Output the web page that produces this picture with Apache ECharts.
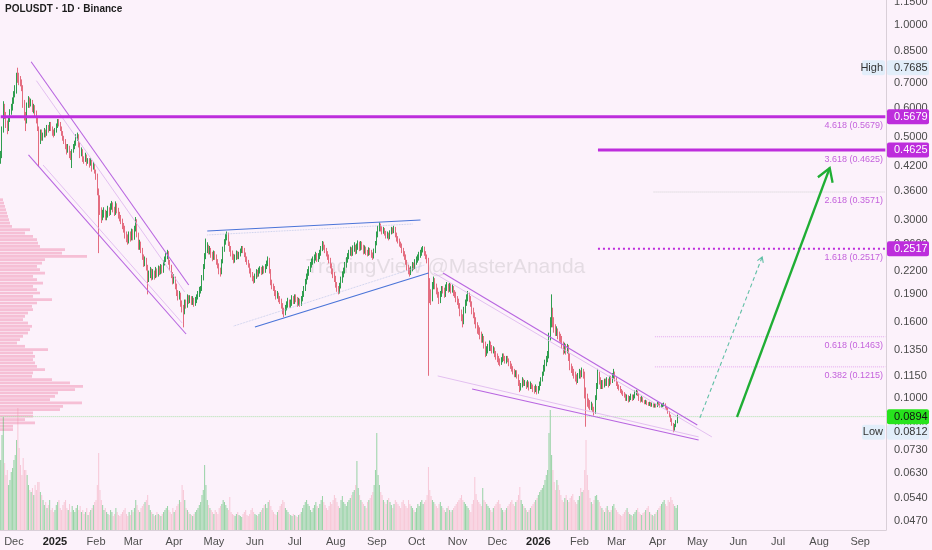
<!DOCTYPE html>
<html><head><meta charset="utf-8">
<script src="https://cdn.jsdelivr.net/npm/echarts@6/dist/echarts.min.js"></script>
<style>html,body{margin:0;padding:0;background:#fcf2fb}#c{width:932px;height:550px}</style>
</head><body><div id="c"></div><script>
const startDate = '2024-11-21';
const dayCount = 669;
const firstOpen = 0.43;
const closes = [
0.445,0.52,0.60,0.575,0.545,0.525,0.56,0.585,0.60,0.625,
0.65,0.665,0.73,0.725,0.715,0.70,0.68,0.62,0.57,0.55,
0.61,0.63,0.615,0.625,0.595,0.605,0.58,0.555,0.53,0.49,
0.515,0.50,0.505,0.52,0.51,0.53,0.525,0.54,0.53,0.515,
0.51,0.52,0.535,0.55,0.545,0.53,0.515,0.50,0.49,0.475,
0.46,0.47,0.455,0.45,0.46,0.47,0.48,0.50,0.505,0.48,
0.45,0.46,0.44,0.435,0.445,0.43,0.435,0.425,0.43,0.415,
0.42,0.405,0.395,0.36,0.34,0.32,0.305,0.31,0.315,0.305,
0.31,0.32,0.315,0.325,0.33,0.322,0.315,0.33,0.32,0.31,
0.305,0.30,0.29,0.285,0.275,0.27,0.265,0.275,0.27,0.28,
0.27,0.285,0.30,0.275,0.255,0.26,0.25,0.24,0.23,0.235,
0.225,0.21,0.215,0.22,0.212,0.217,0.213,0.22,0.215,0.222,
0.218,0.225,0.22,0.23,0.235,0.24,0.245,0.232,0.225,0.215,
0.207,0.21,0.20,0.192,0.187,0.19,0.18,0.175,0.172,0.18,
0.178,0.186,0.183,0.185,0.181,0.184,0.18,0.183,0.187,0.19,
0.195,0.196,0.21,0.225,0.24,0.25,0.255,0.248,0.25,0.243,
0.238,0.245,0.24,0.232,0.228,0.22,0.217,0.232,0.25,0.262,
0.27,0.275,0.26,0.252,0.245,0.24,0.235,0.238,0.245,0.24,
0.243,0.248,0.252,0.25,0.243,0.236,0.232,0.228,0.22,0.215,
0.21,0.207,0.212,0.218,0.215,0.22,0.222,0.218,0.223,0.22,
0.225,0.23,0.235,0.22,0.205,0.20,0.198,0.192,0.188,0.19,
0.185,0.183,0.178,0.172,0.17,0.175,0.178,0.182,0.178,0.18,
0.185,0.182,0.186,0.185,0.18,0.182,0.18,0.185,0.19,0.197,
0.205,0.212,0.217,0.222,0.228,0.232,0.235,0.238,0.242,0.236,
0.24,0.245,0.252,0.26,0.255,0.25,0.245,0.24,0.235,0.228,
0.22,0.215,0.21,0.202,0.197,0.193,0.20,0.208,0.215,0.22,
0.228,0.235,0.24,0.245,0.25,0.245,0.252,0.255,0.248,0.255,
0.26,0.253,0.26,0.255,0.248,0.252,0.247,0.245,0.25,0.246,
0.242,0.24,0.248,0.26,0.275,0.285,0.29,0.285,0.28,0.283,
0.278,0.272,0.275,0.27,0.278,0.283,0.28,0.285,0.275,0.268,
0.265,0.26,0.258,0.25,0.245,0.24,0.232,0.225,0.22,0.217,
0.222,0.228,0.225,0.232,0.235,0.238,0.242,0.245,0.25,0.252,
0.245,0.24,0.235,0.20,0.19,0.185,0.20,0.207,0.20,0.195,
0.19,0.183,0.19,0.196,0.195,0.19,0.198,0.20,0.196,0.20,
0.195,0.198,0.192,0.19,0.185,0.182,0.178,0.17,0.165,0.16,
0.172,0.18,0.185,0.19,0.185,0.18,0.172,0.168,0.162,0.158,
0.153,0.152,0.148,0.145,0.145,0.14,0.132,0.135,0.137,0.14,
0.137,0.135,0.135,0.132,0.13,0.128,0.126,0.125,0.127,0.13,
0.128,0.126,0.128,0.127,0.124,0.122,0.12,0.118,0.116,0.117,
0.115,0.11,0.106,0.108,0.112,0.11,0.11,0.108,0.11,0.107,
0.109,0.108,0.106,0.105,0.107,0.104,0.106,0.109,0.112,0.116,
0.12,0.124,0.127,0.13,0.145,0.158,0.168,0.16,0.155,0.152,
0.152,0.148,0.146,0.145,0.14,0.135,0.138,0.135,0.137,0.13,
0.122,0.12,0.118,0.116,0.114,0.112,0.115,0.117,0.116,0.118,
0.117,0.105,0.10,0.098,0.097,0.095,0.096,0.094,0.092,0.10,
0.108,0.116,0.112,0.108,0.11,0.108,0.111,0.11,0.112,0.109,
0.113,0.111,0.115,0.117,0.113,0.11,0.108,0.107,0.105,0.104,
0.103,0.102,0.10,0.101,0.099,0.10,0.1015,0.10,0.101,0.1035,
0.104,0.103,0.10,0.099,0.10,0.0985,0.0975,0.098,0.097,0.0965,
0.097,0.096,0.0965,0.0955,0.096,0.0955,0.097,0.0965,0.0955,0.0958,
0.096,0.0965,0.095,0.094,0.092,0.09,0.088,0.0855,0.083,0.0845,
0.0865,0.0894];
const highs = [
0.46,0.535,0.625,0.615,0.585,0.555,0.57,0.595,0.615,0.64,
0.665,0.69,0.745,0.7685,0.745,0.73,0.715,0.69,0.63,0.585,
0.62,0.645,0.64,0.635,0.63,0.615,0.61,0.59,0.565,0.535,
0.525,0.525,0.515,0.53,0.525,0.54,0.54,0.55,0.55,0.535,
0.525,0.53,0.545,0.56,0.56,0.55,0.535,0.52,0.505,0.495,
0.48,0.48,0.475,0.46,0.465,0.48,0.49,0.51,0.515,0.51,
0.485,0.47,0.465,0.445,0.455,0.45,0.44,0.44,0.44,0.435,
0.43,0.425,0.41,0.40,0.365,0.35,0.325,0.32,0.325,0.32,
0.318,0.328,0.325,0.333,0.338,0.335,0.326,0.337,0.333,0.324,
0.316,0.31,0.303,0.295,0.29,0.28,0.275,0.28,0.28,0.285,
0.284,0.29,0.306,0.302,0.278,0.266,0.263,0.253,0.243,0.24,
0.238,0.228,0.22,0.225,0.223,0.222,0.22,0.225,0.223,0.227,
0.226,0.229,0.228,0.234,0.24,0.245,0.25,0.248,0.235,0.228,
0.218,0.215,0.212,0.203,0.195,0.194,0.192,0.183,0.178,0.184,
0.184,0.19,0.189,0.189,0.188,0.188,0.186,0.187,0.19,0.194,
0.199,0.20,0.214,0.229,0.245,0.268,0.262,0.258,0.256,0.253,
0.247,0.249,0.248,0.243,0.236,0.23,0.224,0.236,0.255,0.267,
0.276,0.28,0.278,0.263,0.256,0.249,0.244,0.243,0.249,0.248,
0.247,0.252,0.256,0.256,0.253,0.246,0.24,0.235,0.23,0.223,
0.218,0.213,0.216,0.222,0.221,0.224,0.226,0.225,0.227,0.226,
0.229,0.234,0.24,0.238,0.222,0.208,0.203,0.20,0.195,0.194,
0.192,0.188,0.185,0.18,0.175,0.178,0.182,0.186,0.184,0.184,
0.189,0.188,0.19,0.19,0.187,0.186,0.185,0.188,0.194,0.20,
0.209,0.216,0.222,0.226,0.232,0.237,0.24,0.243,0.247,0.245,
0.245,0.25,0.256,0.264,0.263,0.258,0.253,0.248,0.243,0.238,
0.23,0.223,0.218,0.213,0.205,0.20,0.204,0.212,0.219,0.224,
0.232,0.239,0.245,0.25,0.255,0.254,0.257,0.262,0.258,0.26,
0.265,0.263,0.264,0.263,0.258,0.257,0.255,0.25,0.254,0.253,
0.25,0.246,0.252,0.264,0.28,0.29,0.296,0.294,0.289,0.288,
0.286,0.281,0.28,0.278,0.282,0.288,0.287,0.29,0.288,0.278,
0.272,0.268,0.263,0.26,0.253,0.248,0.243,0.235,0.228,0.224,
0.226,0.232,0.231,0.236,0.24,0.243,0.247,0.25,0.254,0.256,
0.255,0.248,0.243,0.238,0.21,0.196,0.205,0.212,0.21,0.203,
0.198,0.193,0.194,0.20,0.20,0.198,0.202,0.205,0.203,0.204,
0.203,0.202,0.20,0.195,0.193,0.188,0.185,0.18,0.173,0.168,
0.176,0.184,0.19,0.194,0.192,0.188,0.182,0.175,0.17,0.165,
0.16,0.157,0.155,0.151,0.149,0.147,0.142,0.138,0.14,0.143,
0.142,0.139,0.138,0.137,0.134,0.132,0.13,0.128,0.129,0.132,
0.132,0.13,0.13,0.13,0.128,0.126,0.124,0.122,0.12,0.119,
0.119,0.116,0.112,0.11,0.114,0.113,0.112,0.111,0.112,0.111,
0.111,0.11,0.109,0.108,0.109,0.108,0.108,0.111,0.114,0.118,
0.123,0.127,0.13,0.134,0.15,0.165,0.19,0.175,0.165,0.158,
0.156,0.154,0.151,0.149,0.147,0.142,0.141,0.14,0.14,0.139,
0.132,0.124,0.122,0.12,0.118,0.116,0.117,0.12,0.119,0.121,
0.12,0.118,0.107,0.103,0.10,0.099,0.098,0.097,0.095,0.102,
0.11,0.12,0.118,0.114,0.112,0.112,0.113,0.113,0.114,0.113,
0.115,0.115,0.117,0.12,0.118,0.114,0.111,0.109,0.108,0.106,
0.105,0.104,0.103,0.1025,0.102,0.1015,0.103,0.1025,0.1025,0.105,
0.1055,0.105,0.1035,0.101,0.1015,0.1008,0.099,0.0992,0.0988,0.0978,
0.098,0.0978,0.0975,0.097,0.097,0.0968,0.098,0.0978,0.097,0.0968,
0.097,0.0975,0.097,0.0955,0.0945,0.0925,0.0905,0.0885,0.086,0.0855,
0.0875,0.0905];
const lows = [
0.425,0.44,0.515,0.56,0.53,0.51,0.52,0.55,0.575,0.59,
0.615,0.64,0.655,0.70,0.69,0.685,0.665,0.60,0.555,0.52,
0.545,0.60,0.60,0.605,0.585,0.58,0.565,0.545,0.52,0.417,
0.48,0.49,0.49,0.50,0.50,0.505,0.515,0.52,0.52,0.505,
0.50,0.505,0.515,0.53,0.535,0.52,0.505,0.49,0.48,0.465,
0.45,0.455,0.44,0.435,0.414,0.455,0.465,0.475,0.49,0.47,
0.44,0.445,0.43,0.425,0.43,0.42,0.425,0.415,0.42,0.405,
0.41,0.40,0.385,0.35,0.245,0.31,0.295,0.30,0.305,0.30,
0.30,0.305,0.308,0.31,0.32,0.315,0.308,0.31,0.313,0.303,
0.298,0.293,0.284,0.278,0.268,0.262,0.258,0.26,0.263,0.265,
0.265,0.266,0.28,0.27,0.25,0.25,0.245,0.235,0.225,0.226,
0.22,0.19,0.205,0.21,0.207,0.208,0.208,0.21,0.211,0.212,
0.214,0.215,0.216,0.217,0.227,0.232,0.236,0.228,0.22,0.21,
0.202,0.203,0.196,0.188,0.183,0.184,0.176,0.17,0.155,0.168,
0.174,0.175,0.179,0.18,0.178,0.178,0.176,0.177,0.18,0.184,
0.187,0.191,0.194,0.207,0.222,0.236,0.245,0.243,0.243,0.238,
0.233,0.235,0.235,0.228,0.223,0.215,0.212,0.215,0.23,0.247,
0.258,0.265,0.256,0.247,0.24,0.235,0.23,0.231,0.235,0.236,
0.236,0.24,0.245,0.245,0.239,0.232,0.228,0.224,0.216,0.211,
0.206,0.203,0.204,0.209,0.211,0.212,0.216,0.214,0.215,0.216,
0.217,0.222,0.226,0.216,0.201,0.196,0.194,0.188,0.184,0.185,
0.181,0.179,0.174,0.168,0.165,0.167,0.172,0.175,0.175,0.175,
0.177,0.179,0.179,0.181,0.176,0.177,0.176,0.177,0.182,0.187,
0.194,0.202,0.208,0.213,0.218,0.224,0.228,0.23,0.234,0.232,
0.232,0.236,0.241,0.248,0.25,0.245,0.24,0.235,0.23,0.223,
0.215,0.21,0.205,0.198,0.193,0.19,0.191,0.197,0.204,0.211,
0.216,0.224,0.231,0.236,0.241,0.24,0.241,0.247,0.243,0.244,
0.25,0.248,0.249,0.25,0.243,0.244,0.242,0.24,0.241,0.242,
0.238,0.235,0.237,0.245,0.257,0.27,0.28,0.28,0.275,0.276,
0.273,0.268,0.268,0.265,0.267,0.275,0.276,0.277,0.27,0.263,
0.26,0.255,0.253,0.245,0.24,0.235,0.228,0.22,0.215,0.212,
0.214,0.219,0.221,0.222,0.228,0.231,0.234,0.238,0.241,0.246,
0.241,0.236,0.23,0.115,0.18,0.178,0.182,0.196,0.196,0.19,
0.186,0.179,0.18,0.187,0.191,0.186,0.187,0.194,0.192,0.193,
0.191,0.192,0.188,0.186,0.181,0.178,0.174,0.166,0.161,0.155,
0.158,0.169,0.177,0.182,0.181,0.176,0.168,0.164,0.158,0.154,
0.149,0.148,0.144,0.141,0.141,0.136,0.129,0.13,0.132,0.134,
0.134,0.132,0.132,0.129,0.127,0.125,0.123,0.122,0.123,0.125,
0.126,0.124,0.124,0.125,0.122,0.12,0.118,0.116,0.114,0.114,
0.113,0.108,0.104,0.105,0.107,0.108,0.108,0.106,0.107,0.105,
0.106,0.106,0.104,0.103,0.104,0.1025,0.103,0.105,0.108,0.111,
0.115,0.118,0.122,0.125,0.128,0.143,0.155,0.155,0.15,0.147,
0.147,0.144,0.142,0.141,0.136,0.131,0.132,0.131,0.132,0.126,
0.119,0.117,0.115,0.113,0.111,0.109,0.11,0.113,0.113,0.114,
0.113,0.10,0.084,0.095,0.094,0.093,0.093,0.092,0.09,0.091,
0.099,0.106,0.109,0.106,0.106,0.106,0.107,0.108,0.108,0.107,
0.108,0.109,0.11,0.113,0.111,0.108,0.106,0.105,0.1035,0.1025,
0.1015,0.1005,0.0985,0.0985,0.0975,0.098,0.099,0.0985,0.099,0.10,
0.102,0.1015,0.0985,0.0975,0.098,0.0975,0.0965,0.0965,0.096,0.0955,
0.0955,0.095,0.095,0.0945,0.0945,0.0945,0.0948,0.0955,0.0945,0.0945,
0.0948,0.0952,0.094,0.093,0.091,0.089,0.0865,0.0845,0.0812,0.082,
0.0838,0.0858];
const volumes = [
70,95,113,67,55,60,45,50,58,62,70,75,90,122,82,65,55,72,60,60,
55,45,40,38,42,35,45,40,48,48,38,35,30,25,28,22,25,30,20,22,
18,20,25,28,30,22,20,25,28,30,22,20,26,18,24,20,18,22,25,20,
24,18,20,16,18,22,15,18,20,22,25,28,30,45,77,40,30,25,20,22,
18,16,15,20,18,14,16,22,18,15,14,16,18,20,22,16,14,18,15,20,
18,22,30,25,20,18,22,24,26,28,30,35,25,20,18,16,14,15,18,16,
15,14,16,18,20,22,24,20,18,16,22,18,20,24,26,30,28,45,40,30,
22,20,18,16,15,14,16,18,20,22,25,28,35,40,65,45,30,25,22,20,
18,16,20,18,16,22,24,26,30,28,25,22,20,33,18,16,15,14,16,18,
15,14,13,16,18,20,15,14,16,20,22,18,16,15,14,16,18,20,22,25,
26,22,28,30,24,20,18,16,15,18,20,24,26,30,28,22,20,18,16,15,
14,16,15,14,13,15,16,18,22,25,28,30,26,24,20,18,22,25,28,24,
22,26,30,34,28,25,22,20,24,28,26,30,35,32,28,24,22,30,34,28,
26,24,28,30,32,35,38,40,45,69,42,35,30,28,26,24,22,28,30,32,
35,38,45,60,97,55,45,38,35,30,28,26,30,32,28,25,22,26,30,28,
26,24,22,28,30,26,24,22,30,26,24,22,20,18,22,26,24,28,30,26,
28,30,35,63,40,34,30,28,26,24,22,26,28,24,22,20,18,22,24,20,
18,20,22,24,26,28,30,32,35,30,28,26,24,22,20,18,26,30,53,36,
30,28,26,24,42,30,28,26,24,22,20,18,22,24,26,28,30,26,22,20,
18,20,22,24,26,28,30,26,24,28,30,35,43,30,26,24,22,20,18,20,
22,24,26,28,30,32,35,38,40,42,45,50,55,60,97,120,75,60,48,40,
50,45,40,35,30,28,32,35,30,28,32,34,36,30,28,26,30,34,42,38,
40,60,90,55,40,32,28,26,30,34,35,30,28,24,22,20,18,22,24,20,
18,20,24,26,22,20,18,16,15,14,16,18,20,22,18,16,15,14,16,18,
20,22,18,16,15,17,18,20,22,24,18,16,15,14,16,18,20,22,24,26,
28,30,26,24,30,28,33,30,26,24,22,25];
const tickValues = [1.15,1.0,0.85,0.7,0.6,0.5,0.42,0.36,0.3,0.26,0.22,0.19,0.16,0.135,0.115,0.1,0.086,0.073,0.063,0.054,0.047];
const fibRatios = ['4.618','3.618','2.618','1.618','0.618','0.382'];
const fibPrices = [0.5679,0.4625,0.3571,0.2517,0.1463,0.1215];
const highPrice = 0.7685, lowPrice = 0.0812, lastPrice = 0.0894;
const profileTop = 0.344, profileRatio = 1.02075;
const profileVols = [3,4,5,6,7,8,9,10,12,30,25,33,37,38,40,65,62,87,45,42,
37,40,45,33,37,43,33,37,40,33,52,37,32,33,28,25,23,28,32,30,
28,23,20,17,25,48,33,35,33,35,37,45,33,32,52,70,83,75,58,55,
50,82,63,60,33,33,25,35,13,13];
// drawings: [categoryIndex, price]
const channelMain = [[[23,0.7975],[142,0.2013]],[[21,0.4487],[140,0.1488]]];
const channelThin = [[[27,0.7094],[139,0.1928]],[[32,0.4218],[137,0.1593]]];
const wedgeMain = [[[156,0.2808],[317,0.3005]],[[192,0.1554],[323,0.2168]]];
const wedgeThin = [[[156,0.274],[311,0.2932]],[[176,0.1563],[320,0.2277]]];
const fallMain = [[[334,0.2168],[526,0.0849]],[[356,0.106],[527,0.0774]]];
const fallThin = [[[327,0.2168],[537,0.0789]],[[330,0.1149],[527,0.0789]]];
const targetArrow = [556,0.0892,626,0.4141];
const pathArrow = [528,0.0887,575,0.2392];
const levelStart = 451, fibStart = 494;

const FONT = '"Liberation Sans", Arial, sans-serif';
const MAG = '#bd2ddc', UP = '#2f9e4f', DOWN = '#e46d80';
const start = new Date(startDate + 'T00:00:00Z').getTime();
const dates = Array.from({length: dayCount}, (_, i) => new Date(start + i * 864e5).toISOString().slice(0, 10));
const lastIdx = dayCount - 1;
const opens = closes.map((c, i) => i === 0 ? firstOpen : closes[i - 1]);
const candles = closes.map((c, i) => [opens[i], c, lows[i], highs[i]]);
const MONTHS = ['Jan','Feb','Mar','Apr','May','Jun','Jul','Aug','Sep','Oct','Nov','Dec'];

function seg(pts, color, width, type, z) {
  return {type: 'line', xAxisIndex: 0, yAxisIndex: 0, data: pts, symbol: 'none', silent: true, z: z || 4,
    lineStyle: {color: color, width: width, type: type || 'solid'}, animation: false};
}
const lineSeries = [];
channelMain.forEach(p => lineSeries.push(seg(p, '#b865e0', 1.1)));
channelThin.forEach(p => lineSeries.push(seg(p, '#dcb3ee', 0.8)));
wedgeMain.forEach(p => lineSeries.push(seg(p, '#4a74d8', 1.2)));
wedgeThin.forEach(p => lineSeries.push(seg(p, '#b8c3e6', 0.8, 'dotted')));
fallMain.forEach(p => lineSeries.push(seg(p, '#b865e0', 1.1)));
fallThin.forEach(p => lineSeries.push(seg(p, '#dcb3ee', 0.8)));
lineSeries.push(seg([[0, fibPrices[0]], [lastIdx, fibPrices[0]]], MAG, 3));
lineSeries.push(seg([[levelStart, fibPrices[1]], [lastIdx, fibPrices[1]]], MAG, 3));
lineSeries.push(seg([[levelStart, fibPrices[3]], [lastIdx, fibPrices[3]]], MAG, 2, [2, 3]));
lineSeries.push(seg([[fibStart - 1, fibPrices[2]], [lastIdx, fibPrices[2]]], '#cfcfcf', 1, 'dotted'));
lineSeries.push(seg([[fibStart, fibPrices[4]], [lastIdx, fibPrices[4]]], '#e3a8ef', 1, 'dotted'));
lineSeries.push(seg([[fibStart, fibPrices[5]], [lastIdx, fibPrices[5]]], '#e3a8ef', 1, 'dotted'));
lineSeries.push(seg([[0, lastPrice], [lastIdx, lastPrice]], '#a8e0a8', 1, 'dotted', 3));

function arrowItem(params, api, color, width, dash, head) {
  const a = api.coord([api.value(0), api.value(1)]);
  const b = api.coord([api.value(2), api.value(3)]);
  const ang = Math.atan2(b[1] - a[1], b[0] - a[0]);
  const l1 = [b[0] - head * Math.cos(ang - 0.55), b[1] - head * Math.sin(ang - 0.55)];
  const l2 = [b[0] - head * Math.cos(ang + 0.55), b[1] - head * Math.sin(ang + 0.55)];
  const st = {stroke: color, lineWidth: width, lineDash: dash, fill: null};
  return {type: 'group', children: [
    {type: 'line', shape: {x1: a[0], y1: a[1], x2: b[0], y2: b[1]}, style: st},
    {type: 'polyline', shape: {points: [l1, b, l2]}, style: {stroke: color, lineWidth: width, fill: null}}
  ]};
}

const badgeRows = [
  [fibPrices[0], fibPrices[0].toFixed(4), MAG, '#fff'],
  [fibPrices[1], fibPrices[1].toFixed(4), MAG, '#fff'],
  [fibPrices[3], fibPrices[3].toFixed(4), MAG, '#fff'],
  [lastPrice, lastPrice.toFixed(4), '#27e31d', '#111'],
  [highPrice, highPrice.toFixed(4), '#e2eefa', '#333', 'High'],
  [lowPrice, lowPrice.toFixed(4), '#e2eefa', '#333', 'Low']
];

const chart = echarts.init(document.getElementById('c'), null, {renderer: 'canvas'});
chart.setOption({
  animation: false,
  backgroundColor: '#fcf2fb',
  grid: [
    {left: 0, right: 46, top: 0, bottom: 20},
    {left: 0, right: 46, top: 405, bottom: 20},
    {left: 0, right: 46, top: 0, bottom: 20}
  ],
  xAxis: [
    {type: 'category', gridIndex: 0, data: dates, boundaryGap: true,
      axisLine: {show: true, lineStyle: {color: '#d9cfd8'}}, axisTick: {show: false}, splitLine: {show: false},
      axisLabel: {
        interval: (i, v) => v.slice(8) === '01', margin: 6, color: '#4f4f4f', fontSize: 11, fontFamily: FONT,
        formatter: v => { const m = +v.slice(5, 7); return m === 1 ? '{y|' + v.slice(0, 4) + '}' : MONTHS[m - 1]; },
        rich: {y: {fontWeight: 'bold', color: '#222', fontSize: 11, fontFamily: FONT}}
      }},
    {type: 'category', gridIndex: 1, data: dates, show: false},
    {type: 'value', gridIndex: 2, min: 0, max: 886, show: false}
  ],
  yAxis: [
    {type: 'log', gridIndex: 0, min: 0.04444, max: 1.1666, position: 'right',
      axisLine: {show: true, lineStyle: {color: '#d9cfd8'}}, axisTick: {show: false}, axisLabel: {show: false}, splitLine: {show: false}},
    {type: 'value', gridIndex: 1, min: 0, max: 125, show: false, splitLine: {show: false}},
    {type: 'log', gridIndex: 2, min: 0.04444, max: 1.1666, show: false, splitLine: {show: false}}
  ],
  graphic: [
    {type: 'text', left: 306, top: 257, z: 0, style: {text: 'TradingView @MasterAnanda', fill: 'rgba(110,110,110,0.17)', font: '21px ' + FONT}},
    {type: 'text', left: 5, top: 4, style: {text: 'POLUSDT · 1D · Binance', fill: '#1c1c1c', font: '600 10px ' + FONT}}
  ],
  series: [
    {type: 'custom', xAxisIndex: 2, yAxisIndex: 2, z: 1, silent: true,
      data: profileVols.map((v, i) => [v, profileTop / Math.pow(profileRatio, i)]),
      renderItem: (params, api) => {
        const pTop = api.value(1), pBot = pTop / profileRatio;
        const y1 = api.coord([0, pTop])[1], y2 = api.coord([0, pBot])[1];
        const x0 = params.coordSys.x, x1 = api.coord([api.value(0), pTop])[0];
        return {type: 'rect', shape: {x: x0, y: y1 + 0.3, width: x1 - x0, height: y2 - y1 - 0.6}, style: {fill: 'rgba(240,140,175,0.5)'}};
      }},
    {type: 'bar', xAxisIndex: 1, yAxisIndex: 1, data: volumes, barWidth: 1, z: 2, silent: true,
      itemStyle: {color: p => closes[p.dataIndex] >= opens[p.dataIndex] ? 'rgba(70,185,95,0.55)' : 'rgba(240,140,165,0.42)'}},
    {type: 'candlestick', xAxisIndex: 0, yAxisIndex: 0, data: candles, barWidth: 0.6, z: 3, silent: true,
      itemStyle: {color: UP, color0: DOWN, borderColor: UP, borderColor0: DOWN, borderWidth: 1}},
    ...lineSeries,
    {type: 'custom', xAxisIndex: 0, yAxisIndex: 0, z: 5, silent: true, data: [targetArrow],
      renderItem: (params, api) => arrowItem(params, api, '#1fae34', 2.3, null, 15)},
    {type: 'custom', xAxisIndex: 0, yAxisIndex: 0, z: 5, silent: true, data: [pathArrow],
      renderItem: (params, api) => arrowItem(params, api, '#5fbfa5', 1.1, [4, 3], 6)},
    {type: 'custom', xAxisIndex: 0, yAxisIndex: 0, z: 6, silent: true,
      data: fibPrices.map((p, i) => [0, p, i]),
      renderItem: (params, api) => {
        const cs = params.coordSys, i = api.value(2), y = api.coord([0, api.value(1)])[1];
        return {type: 'text', x: cs.x + cs.width - 3, y: y + 9,
          style: {text: fibRatios[i] + ' (' + fibPrices[i].toFixed(4) + ')', fill: '#c462dc', fontSize: 9, fontFamily: FONT, align: 'right', verticalAlign: 'middle'}};
      }},
    {type: 'custom', xAxisIndex: 0, yAxisIndex: 0, z: 7, silent: true,
      data: tickValues.map(v => [0, v]),
      renderItem: (params, api) => {
        const cs = params.coordSys, y = api.coord([0, api.value(1)])[1];
        return {type: 'text', x: cs.x + cs.width + 8, y: y,
          style: {text: api.value(1).toFixed(4), fill: '#4a4a4a', fontSize: 11, fontFamily: FONT, align: 'left', verticalAlign: 'middle'}};
      }},
    {type: 'custom', xAxisIndex: 0, yAxisIndex: 0, z: 8, silent: true,
      data: badgeRows.map((r, i) => [0, r[0], i]),
      renderItem: (params, api) => {
        const cs = params.coordSys, r = badgeRows[api.value(2)], y = api.coord([0, api.value(1)])[1];
        const xr = cs.x + cs.width;
        const kids = [
          {type: 'rect', shape: {x: xr + 1, y: y - 7.5, width: 42, height: 15, r: 2}, style: {fill: r[2]}},
          {type: 'text', x: xr + 8, y: y, style: {text: r[1], fill: r[3], fontSize: 11, fontFamily: FONT, align: 'left', verticalAlign: 'middle'}}
        ];
        if (r[4]) {
          kids.push({type: 'rect', shape: {x: xr - 24, y: y - 7.5, width: 23, height: 15, r: 2}, style: {fill: r[2]}});
          kids.push({type: 'text', x: xr - 3, y: y, style: {text: r[4], fill: '#333', fontSize: 11, fontFamily: FONT, align: 'right', verticalAlign: 'middle'}});
        }
        return {type: 'group', children: kids};
      }}
  ]
});
</script></body></html>
